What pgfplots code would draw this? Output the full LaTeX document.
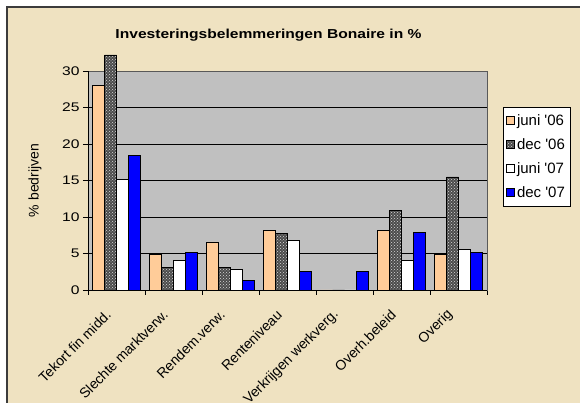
\documentclass[border=0pt]{standalone}
\usepackage{pgfplots}
\pgfplotsset{compat=1.18}
\usepackage{pgfplotstable}
\usetikzlibrary{patterns}
\usepackage{fontspec}
\setmainfont{Liberation Sans}
\newfontfamily\titlefont{Liberation Sans}[FakeStretch=1.2]
\newfontfamily\tickfont{Liberation Sans}[FakeStretch=1.25]
\definecolor{parch}{RGB}{239,226,193}
\definecolor{peach}{RGB}{255,204,153}
\definecolor{plotgray}{RGB}{192,192,192}
\definecolor{framec}{RGB}{60,60,60}
\pgfplotsset{sqlegend/.style={legend image code/.code={\draw[##1,line width=0.6pt] (0pt,-4pt) rectangle (8pt,4pt);}}}
\pgfplotstableread{
x juni06 dec06 juni07 dec07
0 28.0 32.2 15.2 18.4
1 4.9 3.1 4.1 5.2
2 6.6 3.1 2.8 1.3
3 8.2 7.8 6.8 2.5
4 0 0 0 2.5
5 8.2 10.9 4.1 7.9
6 4.9 15.5 5.6 5.2
}\data
\begin{document}
\begin{tikzpicture}[x=1pt,y=1pt]
\useasboundingbox (0,0) rectangle (580,403);
\fill[white] (0,0) rectangle (580,403);
\fill[parch] (7,0) rectangle (580,396);
\draw[line width=1.5pt, framec] (7,-1) -- (7,396) -- (581,396);
\node[font=\titlefont\bfseries\fontsize{13}{15}\selectfont] at (268.5,368) {Investeringsbelemmeringen Bonaire in \%};
\begin{axis}[
  at={(88pt,113pt)}, anchor=south west,
  scale only axis, width=399pt, height=219pt,
  xmin=-0.5, xmax=6.5, ymin=0, ymax=30,
  clip=false,
  ybar=0pt, bar width=12pt,
  axis background/.style={fill=plotgray},
  axis line style={draw=gray!70!black, line width=0.8pt},
  ytick={0,5,...,30},
  ymajorgrids, grid style={black, line width=0.8pt},
  xtick={-0.1,0.9,1.9,2.9,3.9,4.9,5.9},
  xticklabels={Tekort fin midd., Slechte marktverw., Rendem.verw., Renteniveau, Verkrijgen werkverg., Overh.beleid, Overig},
  major x tick style={draw=none},
  minor xtick={-0.5,0.5,1.5,2.5,3.5,4.5,5.5,6.5},
  minor x tick style={black, line width=0.8pt},
  tick align=outside, major tick length=5pt, minor tick length=5pt,
  ytick style={black, line width=0.8pt},
  xtick pos=bottom, ytick pos=left,
  /pgf/number format/assume math mode=true,
  yticklabel style={font=\tickfont\fontsize{12.5}{14}\selectfont},
  xticklabel style={rotate=45, anchor=east, font=\fontsize{14}{16}\selectfont},
  xticklabel shift=15pt,
  ylabel={\% bedrijven},
  every axis y label/.style={at={(axis description cs:-0.133,0.5)}, rotate=90, anchor=center, font=\fontsize{14}{16}\selectfont},
  legend style={at={(axis description cs:1,1)}, anchor=north west, xshift=16pt, yshift=-36pt,
    draw=black, fill=white, font=\fontsize{15}{16}\selectfont, row sep=7.7pt, inner xsep=3pt, inner ysep=5pt, line width=0.8pt},
  legend cell align=left,
]
\addplot[fill=peach, draw=black, line width=0.6pt, sqlegend] table[x=x,y=juni06]{\data};
\addplot[fill=black!70, draw=black, line width=0.6pt, postaction={pattern=crosshatch dots, pattern color=white!85!black}, sqlegend] table[x=x,y=dec06]{\data};
\addplot[fill=white, draw=black, line width=0.6pt, sqlegend] table[x=x,y=juni07]{\data};
\addplot[fill=blue, draw=black, line width=0.6pt, sqlegend] table[x=x,y=dec07]{\data};
\legend{juni {\textquotesingle}06, dec {\textquotesingle}06, juni {\textquotesingle}07, dec {\textquotesingle}07}
\draw[black, line width=0.8pt] (rel axis cs:0,1) -- (rel axis cs:0,0) -- (rel axis cs:1,0);
\end{axis}
\end{tikzpicture}
\end{document}
